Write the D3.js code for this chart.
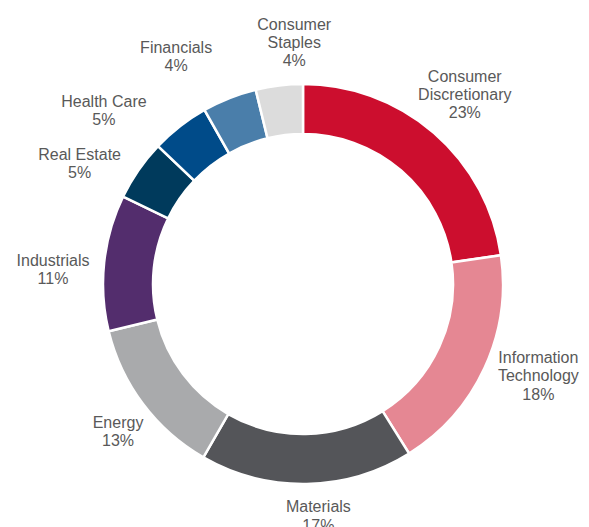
<!DOCTYPE html>
<html>
<head>
<meta charset="utf-8">
<script src="https://cdn.jsdelivr.net/npm/d3@7"></script>
<style>
  body { margin: 0; background: #ffffff; }
  #donut-chart { width: 589px; height: 527px; }
</style>
</head>
<body>
<div id="donut-chart"></div>
<script>
// Sector weights (share of portfolio, %)
const sectors = ["Consumer\nDiscretionary", "Information\nTechnology", "Materials", "Energy", "Industrials",
                 "Real Estate", "Health Care", "Financials", "Consumer\nStaples"];
const shares = [22.7, 18.4, 17.2, 12.9, 11.0, 4.9, 4.7, 4.4, 3.8];
const sectorColors = ["#cc0e2e", "#e58793", "#545559", "#a9aaac", "#532d6d",
                      "#003a5c", "#004b89", "#4a7eaa", "#dcdcdc"];

const width = 589, height = 527;
const cx = 303, cy = 284;
const outerR = 200, innerR = 150, labelR = 214;
const lineH = 18.4;
const labelShift = -2.5 * Math.PI / 180; // labels sit slightly counter-clockwise

const data = sectors.map((s, i) => ({ sector: s, value: shares[i], color: sectorColors[i] }));

const svg = d3.select("#donut-chart")
    .append("svg")
    .attr("width", width)
    .attr("height", height);

const chartGroup = svg.append("g")
    .attr("transform", `translate(${cx},${cy})`);

const pie = d3.pie().sort(null).value(d => d.value);
const arc = d3.arc().innerRadius(innerR).outerRadius(outerR);
const arcs = pie(data);

// Slices
chartGroup.selectAll("path.slice")
    .data(arcs)
    .join("path")
    .attr("class", "slice")
    .attr("d", arc)
    .attr("fill", d => d.data.color)
    .attr("stroke", "#ffffff")
    .attr("stroke-width", 2.5);

// Labels
const labels = chartGroup.selectAll("g.label")
    .data(arcs)
    .join("g")
    .attr("class", "label");

labels.each(function(d) {
    const g = d3.select(this);
    const lines = d.data.sector.split("\n").concat([d3.format(".0f")(d.value) + "%"]);
    const n = lines.length;
    g.selectAll("text")
        .data(lines)
        .join("text")
        .attr("x", 0)
        .attr("y", (t, i) => (i - (n - 1) / 2) * lineH)
        .attr("text-anchor", "middle")
        .attr("dominant-baseline", "central")
        .style("font-family", "'Liberation Sans', Arial, sans-serif")
        .style("font-size", "16px")
        .style("fill", "#595959")
        .text(t => t);
    const bb = this.getBBox();
    d.w = bb.width;
    d.h = n * lineH;
    d.r = labelR;
    d.theta = (d.startAngle + d.endAngle) / 2 + labelShift;
});

// place box outside the ring, pushed along its angle
function place(d) {
    const s = Math.sin(d.theta), c = -Math.cos(d.theta);
    d.x = d.r * s + d.w / 2 * s;
    d.y = d.r * c + d.h / 2 * c;
}

// simple relaxation so crowded labels don't collide
const padX = 44, padY = 16;
arcs.forEach(place);
for (let k = 0; k < 600; k++) {
    let moved = false;
    for (let i = 0; i < arcs.length - 1; i++) {
        const a = arcs[i], b = arcs[i + 1];
        const ox = (a.w + b.w) / 2 + padX - Math.abs(a.x - b.x);
        const oy = (a.h + b.h) / 2 + padY - Math.abs(a.y - b.y);
        if (ox > 0 && oy > 0) {
            a.theta -= 0.002;
            a.r += 0.3;
            b.theta += 0.0016;
            place(a); place(b);
            moved = true;
        }
    }
    if (!moved) break;
}

labels.attr("transform", d => `translate(${d.x},${d.y})`);
</script>
</body>
</html>
